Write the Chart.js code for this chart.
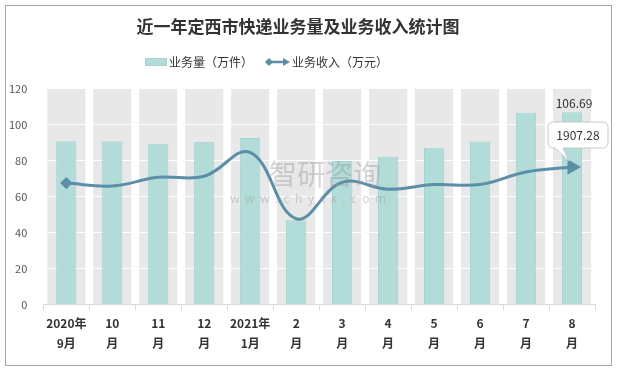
<!DOCTYPE html>
<html lang="zh">
<head>
<meta charset="UTF-8">
<title>近一年定西市快递业务量及业务收入统计图</title>
<style>
    html, body { margin: 0; padding: 0; background: #fff; }
    .box { width: 617px; height: 371px; position: relative; }
</style>
</head>
<body>
<div class="box"><canvas id="chart" width="617" height="371"></canvas></div>
<script src="https://cdn.jsdelivr.net/npm/chart.js"></script>
<script>
// 数据
const months = [['2020年', '9月'], ['10', '月'], ['11', '月'], ['12', '月'], ['2021年', '1月'], ['2', '月'],
    ['3', '月'], ['4', '月'], ['5', '月'], ['6', '月'], ['7', '月'], ['8', '月']];
const volume = [90.7, 90.7, 89.3, 90.3, 92.5, 46.8, 79.6, 82.0, 87.0, 90.5, 106.5, 106.69];
const revenue = [1685, 1645, 1765, 1780, 2110, 1190, 1695, 1600, 1665, 1665, 1840, 1907.28];
const yTicks = [0, 20, 40, 60, 80, 100, 120];
const bandTop = months.map(() => 120);

const FONT = '"Noto Sans CJK SC", "Noto Sans", sans-serif';
const lineColor = '#5b8ea8';

// 背景灰条上的白色网格线 + 边框 + 图例 + 标注
const extras = {
    id: 'extras',
    beforeDraw(chart) {
        const ctx = chart.ctx;
        ctx.save();
        ctx.fillStyle = '#fff';
        ctx.fillRect(0, 0, chart.width, chart.height);
        ctx.strokeStyle = '#a6a6a6';
        ctx.lineWidth = 1;
        ctx.strokeRect(5.5, 5.5, chart.width - 11, chart.height - 11);
        ctx.restore();
    },
    afterDatasetDraw(chart, args) {
        if (args.meta.label !== 'bg') return;
        const ctx = chart.ctx, y = chart.scales.y, a = chart.chartArea;
        ctx.save();
        ctx.strokeStyle = '#fff';
        ctx.lineWidth = 1;
        yTicks.forEach(v => {
            if (v === 0) return;
            const py = Math.round(y.getPixelForValue(v)) + 0.5;
            ctx.beginPath();
            ctx.moveTo(a.left, py);
            ctx.lineTo(a.right, py);
            ctx.stroke();
        });
        ctx.restore();
    },
    afterDraw(chart) {
        const ctx = chart.ctx;
        ctx.save();
        // 图例
        ctx.font = '12px ' + FONT;
        ctx.textBaseline = 'middle';
        const ly = 62;
        ctx.fillStyle = '#b2dcd8';
        ctx.fillRect(145, ly - 4, 22, 8);
        ctx.strokeStyle = '#a3d4cf';
        ctx.strokeRect(145.5, ly - 3.5, 21, 7);
        ctx.fillStyle = '#333';
        ctx.fillText('业务量（万件）', 169, ly);
        const lx = 169 + ctx.measureText('业务量（万件）').width + 12;
        ctx.strokeStyle = lineColor;
        ctx.fillStyle = lineColor;
        ctx.lineWidth = 2.5;
        ctx.beginPath(); ctx.moveTo(lx + 2, ly); ctx.lineTo(lx + 21, ly); ctx.stroke();
        ctx.beginPath(); ctx.moveTo(lx, ly); ctx.lineTo(lx + 4, ly - 4); ctx.lineTo(lx + 8, ly); ctx.lineTo(lx + 4, ly + 4); ctx.closePath(); ctx.fill();
        ctx.beginPath(); ctx.moveTo(lx + 25, ly); ctx.lineTo(lx + 18, ly - 4); ctx.lineTo(lx + 18, ly + 4); ctx.closePath(); ctx.fill();
        ctx.fillStyle = '#333';
        ctx.fillText('业务收入（万元）', lx + 27, ly);

        // 水印
        ctx.textAlign = 'center';
        ctx.fillStyle = 'rgba(150,150,150,0.4)';
        ctx.font = '28px ' + FONT;
        ctx.fillText('智研咨询', 325, 174);
        ctx.font = '12px ' + FONT;
        ctx.fillText('w  w  w  .  c  h  y  x  x  .  c  o  m', 308, 198);

        // 最后一个柱的标签
        const last = volume.length - 1;
        const barMeta = chart.getDatasetMeta(1).data[last];
        ctx.fillStyle = '#333';
        ctx.font = '12px ' + FONT;
        ctx.fillText(volume[last].toFixed(2), barMeta.x + 2, barMeta.y - 9);

        // 收入标注框
        const pt = chart.getDatasetMeta(0).data[last];
        const bx = 548, by = 122, bw = 60, bh = 26, r = 5;
        ctx.fillStyle = '#fff';
        ctx.strokeStyle = '#c8c8c8';
        ctx.lineWidth = 1;
        ctx.beginPath();
        ctx.moveTo(bx + r, by);
        ctx.lineTo(bx + bw - r, by);
        ctx.arcTo(bx + bw, by, bx + bw, by + r, r);
        ctx.lineTo(bx + bw, by + bh - r);
        ctx.arcTo(bx + bw, by + bh, bx + bw - r, by + bh, r);
        ctx.lineTo(bx + 15, by + bh);
        ctx.lineTo(pt.x - 3, pt.y - 6);
        ctx.lineTo(bx + 7, by + bh);
        ctx.lineTo(bx + r, by + bh);
        ctx.arcTo(bx, by + bh, bx, by + bh - r, r);
        ctx.lineTo(bx, by + r);
        ctx.arcTo(bx, by, bx + r, by, r);
        ctx.closePath();
        ctx.fill();
        ctx.stroke();
        ctx.fillStyle = '#333';
        ctx.fillText(revenue[last].toFixed(2), bx + bw / 2, by + bh / 2);
        ctx.restore();
    }
};

const n = months.length;
new Chart(document.getElementById('chart'), {
    data: {
        labels: months,
        datasets: [
            {
                type: 'line',
                label: '业务收入（万元）',
                data: revenue,
                yAxisID: 'y1',
                borderColor: lineColor,
                backgroundColor: lineColor,
                borderWidth: 3,
                tension: 0.4,
                pointStyle: revenue.map((v, i) => i === 0 ? 'rectRot' : (i === n - 1 ? 'triangle' : false)),
                pointRadius: revenue.map((v, i) => i === 0 ? 4 : (i === n - 1 ? 6 : 0)),
                pointRotation: revenue.map((v, i) => i === n - 1 ? 90 : 0),
                order: 0
            },
            {
                type: 'bar',
                label: '业务量（万件）',
                data: volume,
                yAxisID: 'y',
                backgroundColor: '#b2dcd8',
                borderColor: '#a3d4cf',
                borderWidth: 1,
                barPercentage: 0.44,
                categoryPercentage: 1,
                grouped: false,
                order: 1
            },
            {
                type: 'bar',
                label: 'bg',
                data: bandTop,
                yAxisID: 'y',
                backgroundColor: '#e8e8e8',
                barPercentage: 0.83,
                categoryPercentage: 1,
                grouped: false,
                order: 2
            }
        ]
    },
    options: {
        responsive: false,
        animation: false,
        layout: { padding: { left: 1, right: 22, bottom: 15 } },
        plugins: {
            legend: { display: false },
            tooltip: { enabled: false },
            title: {
                display: true,
                text: '近一年定西市快递业务量及业务收入统计图',
                color: '#333',
                font: { family: FONT, size: 17, weight: 'bold' },
                padding: { top: 16, bottom: 52 }
            }
        },
        scales: {
            x: {
                grid: { display: true, drawOnChartArea: false, offset: true, tickLength: 6, color: '#d9d9d9' },
                border: { display: true, color: '#d9d9d9' },
                ticks: {
                    color: '#333',
                    font: { family: FONT, size: 12, weight: 'bold', lineHeight: 1.65 },
                    maxRotation: 0,
                    autoSkip: false,
                    padding: 3
                }
            },
            y: {
                min: 0, max: 120,
                afterBuildTicks: s => { s.ticks = yTicks.map(v => ({ value: v })); },
                grid: { display: false },
                border: { display: false },
                ticks: { color: '#555', font: { family: FONT, size: 11 }, padding: 8 }
            },
            y1: {
                display: false,
                position: 'right',
                min: 0, max: 3000
            }
        }
    },
    plugins: [extras]
});
</script>
</body>
</html>
